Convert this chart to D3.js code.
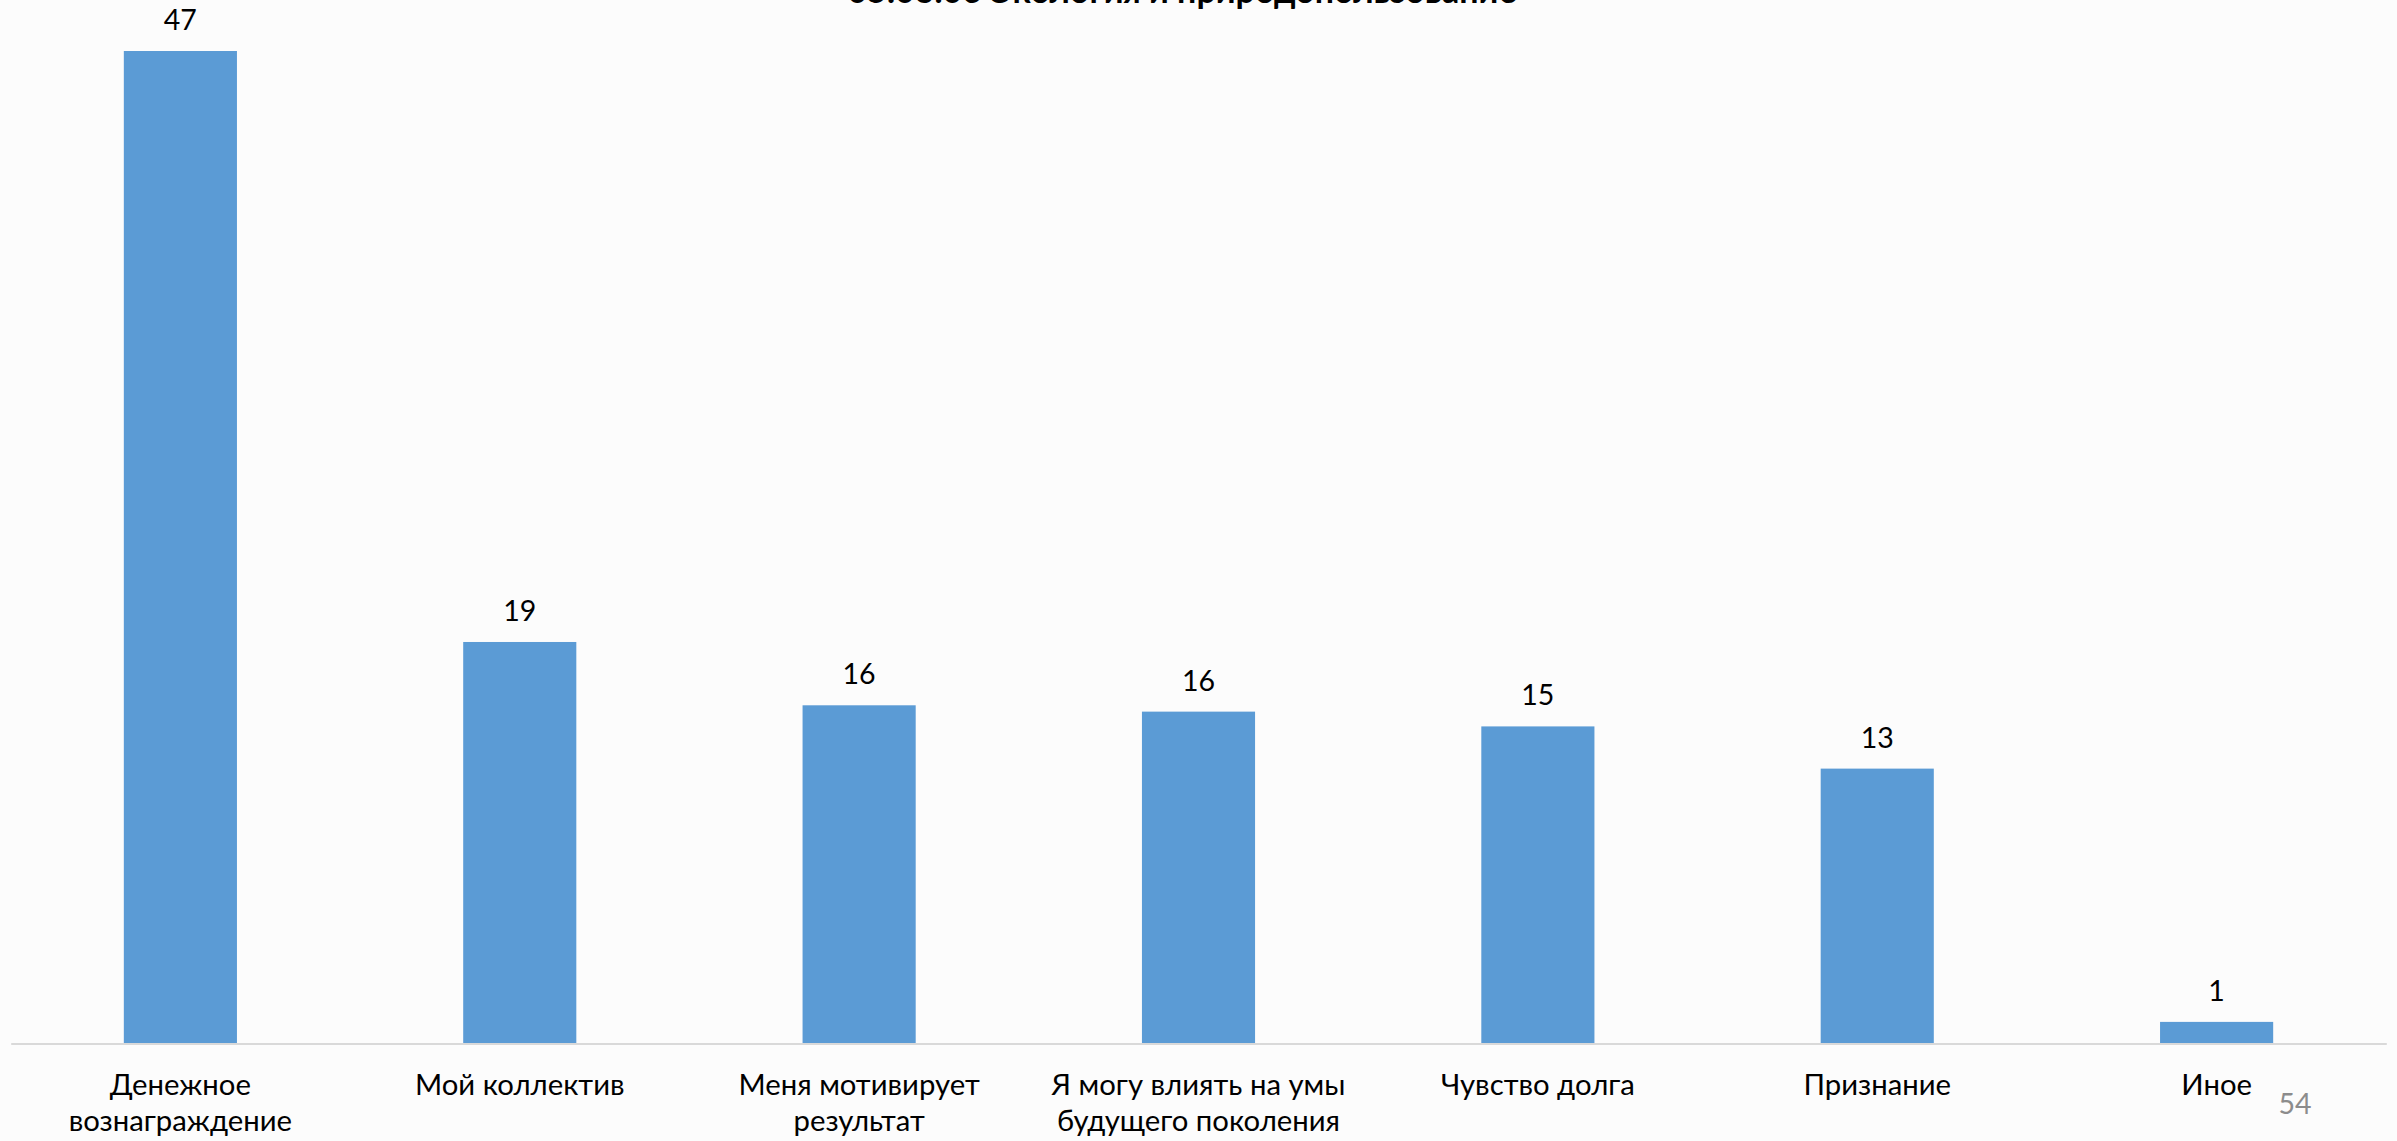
<!DOCTYPE html>
<html>
<head>
<meta charset="utf-8">
<script src="https://cdn.jsdelivr.net/npm/d3@7"></script>
<style>
  html, body { margin: 0; padding: 0; background: #fcfcfc; }
  svg { display: block; }
</style>
</head>
<body>
<script>
// ---- data ----
const title = "05.03.06 Экология и природопользование";
const categories = [
  "Денежное\nвознаграждение",
  "Мой коллектив",
  "Меня мотивирует\nрезультат",
  "Я могу влиять на умы\nбудущего поколения",
  "Чувство долга",
  "Признание",
  "Иное"
];
const values = [47, 19, 16, 15.7, 15, 13, 1];
const pageNumber = "54";

// ---- layout ----
const W = 2397, H = 1141;
const svg = d3.select("body").append("svg").attr("width", W).attr("height", H);
svg.append("rect").attr("width", W).attr("height", H).attr("fill", "#fcfcfc");

const x = d3.scaleBand().domain(categories).range([10.7, 2386.3])
  .paddingInner(2 / 3).paddingOuter(1 / 3);
const y = d3.scaleLinear().domain([0, 47]).range([1043, 51]);

const font = "Lato, 'Open Sans', sans-serif";

// title (cut off at top, as in the reference)
svg.append("text")
  .attr("x", 1182).attr("y", 3)
  .attr("text-anchor", "middle")
  .attr("font-family", font).attr("font-weight", "bold")
  .attr("font-size", 34).attr("fill", "#000")
  .text(title);

// bars
svg.append("g").selectAll("rect").data(values).join("rect")
  .attr("x", (d, i) => x(categories[i]))
  .attr("width", x.bandwidth())
  .attr("y", d => y(d))
  .attr("height", d => y(0) - y(d))
  .attr("fill", "#5b9bd5");

// value labels
const fmt = d3.format(".0f");
svg.append("g").selectAll("text").data(values).join("text")
  .attr("x", (d, i) => x(categories[i]) + x.bandwidth() / 2)
  .attr("y", d => y(d) - 21)
  .attr("text-anchor", "middle")
  .attr("font-family", font).attr("font-size", 28.5).attr("fill", "#000")
  .text(d => fmt(d));

// axis
const xAxis = d3.axisBottom(x).tickSize(0).tickFormat("");
const ax = svg.append("g").attr("transform", `translate(0,${y(0) + 0.5})`).call(xAxis);
ax.select(".domain").attr("stroke", "#d9d9d9").attr("stroke-width", 2);

// category labels
const catG = svg.append("g");
categories.forEach(c => {
  const t = catG.append("text")
    .attr("x", x(c) + x.bandwidth() / 2)
    .attr("y", 1095)
    .attr("text-anchor", "middle")
    .attr("font-family", font).attr("font-size", 29.3).attr("fill", "#000");
  c.split("\n").forEach((line, j) => {
    t.append("tspan").attr("x", x(c) + x.bandwidth() / 2)
      .attr("dy", j === 0 ? 0 : 36).text(line);
  });
});

// page number
svg.append("text")
  .attr("x", 2295).attr("y", 1114)
  .attr("text-anchor", "middle")
  .attr("font-family", font).attr("font-size", 28.5).attr("fill", "#8c8c8c")
  .text(pageNumber);
</script>
</body>
</html>
